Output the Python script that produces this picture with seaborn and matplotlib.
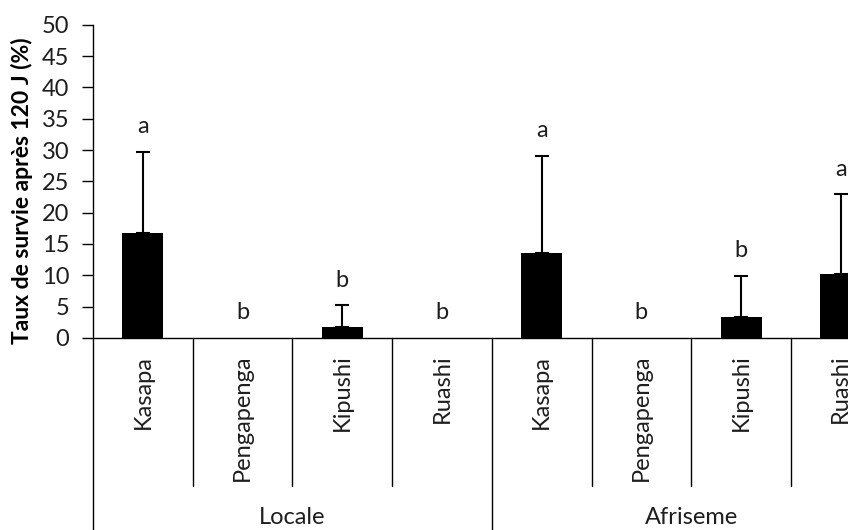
import matplotlib
matplotlib.use("Agg")
import matplotlib.pyplot as plt
import matplotlib.transforms as mtransforms
import seaborn as sns
import pandas as pd
import numpy as np

# ---- data ----
groups = ["Locale", "Locale", "Locale", "Locale",
          "Afriseme", "Afriseme", "Afriseme", "Afriseme"]
varieties = ["Kasapa", "Pengapenga", "Kipushi", "Ruashi",
             "Kasapa", "Pengapenga", "Kipushi", "Ruashi"]
means = [16.8, 0.0, 1.8, 0.0, 13.6, 0.0, 3.4, 10.2]
sds = [12.9, 0.0, 3.45, 0.0, 15.5, 0.0, 6.5, 12.7]
letters = ["a", "b", "b", "b", "a", "b", "b", "a"]
group_names = ["Locale", "Afriseme"]
y_ticks = [0, 5, 10, 15, 20, 25, 30, 35, 40, 45, 50]
y_label = "Taux de survie après 120 J (%)"

sns.set_theme(style="white")
plt.rcParams["font.family"] = ["Lato", "DejaVu Sans"]

df = pd.DataFrame({
    "key": [f"{g} {v}" for g, v in zip(groups, varieties)],
    "variety": varieties,
    "group": groups,
    "mean": means,
    "sd": sds,
})

fig = plt.figure(figsize=(8.48, 5.30), dpi=100)
ax = fig.add_axes([0.1097, 0.3623, 0.9406, 0.5911])

sns.barplot(data=df, x="key", y="mean", order=list(df["key"]), color="black",
            saturation=1, width=0.41, errorbar=None, edgecolor="none", ax=ax)

xs = np.arange(len(df))
mask = df["sd"].values > 0
ax.errorbar(xs[mask], df["mean"].values[mask],
            yerr=[np.zeros(mask.sum()), df["sd"].values[mask]],
            fmt="none", ecolor="black", elinewidth=1.5, capsize=4.7, capthick=1.5,
            zorder=3)

txt_col = "#1e1e1e"
FS = 17
for x, m, s, l in zip(xs, df["mean"], df["sd"], letters):
    ax.text(x, m + s + 4.0, l, ha="center", va="center", fontsize=FS, color=txt_col)

ax.set_xlim(-0.5, len(df) - 0.5)
ax.set_ylim(0, 50)
ax.set_yticks(y_ticks)
ax.set_yticklabels([str(t) for t in y_ticks], fontsize=FS, color=txt_col)
ax.tick_params(axis="y", direction="out", length=8, width=1.0, color="black",
               pad=9, left=True)
ax.set_xticks(xs)
ax.set_xticklabels(varieties, rotation=90, fontsize=FS, color=txt_col)
ax.tick_params(axis="x", length=0, pad=12)
ax.set_xlabel("")
ax.set_ylabel(y_label, fontsize=16.5, fontweight="bold", color="black")
ax.yaxis.set_label_coords(-0.0752, 0.471)

for side in ["top", "right"]:
    ax.spines[side].set_visible(False)
for side in ["left", "bottom"]:
    ax.spines[side].set_color("black")
    ax.spines[side].set_linewidth(1.0)

trans = mtransforms.blended_transform_factory(ax.transData, ax.transAxes)
# category separators
for i in range(len(df) - 1):
    if (i + 1) % 4 == 0:
        continue
    ax.plot([i + 0.5, i + 0.5], [0, -0.472], transform=trans, color="black",
            lw=1.0, clip_on=False)
# group separators
for b in [-0.5, 3.5, 7.5]:
    ax.plot([b, b], [0, -0.7], transform=trans, color="black",
            lw=1.0, clip_on=False)
for gi, g in enumerate(group_names):
    ax.text(gi * 4 + 1.5, -0.572, g, transform=trans, ha="center", va="center",
            fontsize=FS, color=txt_col)

fig.savefig("out.png", dpi=100)
